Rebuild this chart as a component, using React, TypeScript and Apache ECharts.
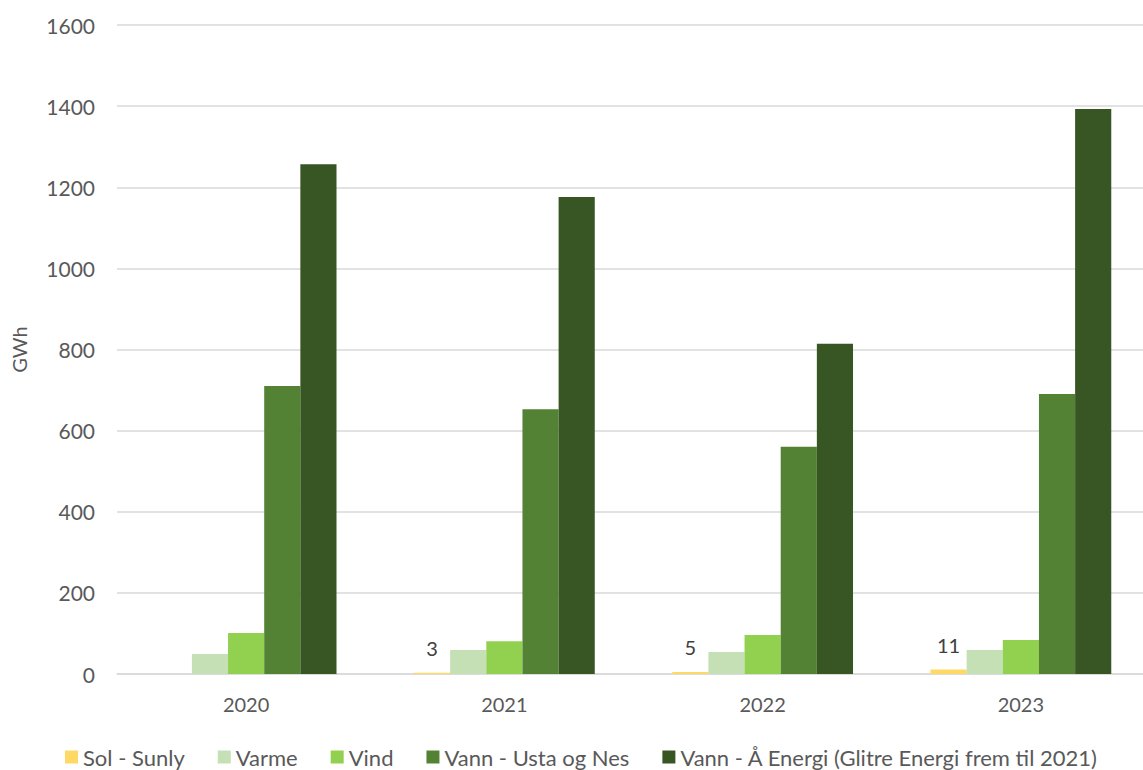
import React, { useEffect, useRef } from "react";
import * as echarts from "echarts";

const years = ["2020", "2021", "2022", "2023"];
const sol = [null, 3, 5, 11];
const varme = [49, 59, 54, 59];
const vind = [101, 81, 96, 84];
const vannUsta = [710, 653, 560, 690];
const vannAE = [1257, 1176, 814, 1393];
const seriesNames = [
  "Sol - Sunly",
  "Varme",
  "Vind",
  "Vann - Usta og Nes",
  "Vann - Å Energi (Glitre Energi frem til 2021)",
];
const colors = ["#FFD966", "#C5E0B4", "#92D050", "#548235", "#375623"];

export default function App() {
  const ref = useRef<HTMLDivElement>(null);
  useEffect(() => {
    document.body.style.margin = "0";
    document.body.style.overflow = "hidden";
    const chart = echarts.init(ref.current!, null, { renderer: "svg" });
    const font = "Lato, 'Open Sans', sans-serif";
    const data = [sol, varme, vind, vannUsta, vannAE];
    chart.setOption({
      animation: false,
      textStyle: { fontFamily: font },
      grid: { left: 117, right: 10, top: 25, bottom: 96 },
      legend: {
        bottom: -3,
        left: 60,
        itemWidth: 13,
        itemHeight: 13,
        itemGap: 33,
        icon: "rect",
        textStyle: { fontSize: 22, color: "#595959", fontFamily: font },
        data: seriesNames,
      },
      xAxis: {
        type: "category",
        data: years,
        axisLine: { lineStyle: { color: "#d9d9d9", width: 1.5 } },
        axisTick: { show: false },
        axisLabel: { fontSize: 20, color: "#595959", margin: 20 },
      },
      yAxis: {
        type: "value",
        min: 0,
        max: 1600,
        interval: 200,
        name: "GWh",
        nameLocation: "middle",
        nameGap: 88,
        nameTextStyle: { fontSize: 20, color: "#595959" },
        splitLine: { lineStyle: { color: "#d9d9d9", width: 1.5 } },
        axisLabel: {
          fontSize: 21,
          color: "#595959",
          margin: 22,
          formatter: (v: number) => String(v),
        },
      },
      series: data.map((d, i) => ({
        name: seriesNames[i],
        type: "bar",
        data: d,
        barGap: "0%",
        barCategoryGap: "30%",
        itemStyle: { color: colors[i] },
        label:
          i === 0
            ? {
                show: true,
                position: "top",
                distance: 15,
                fontSize: 20,
                color: "#404040",
                formatter: (p: any) => (p.value == null ? "" : String(p.value)),
              }
            : { show: false },
      })),
    });
    return () => chart.dispose();
  }, []);
  return <div ref={ref} style={{ width: 1160, height: 770 }} />;
}
